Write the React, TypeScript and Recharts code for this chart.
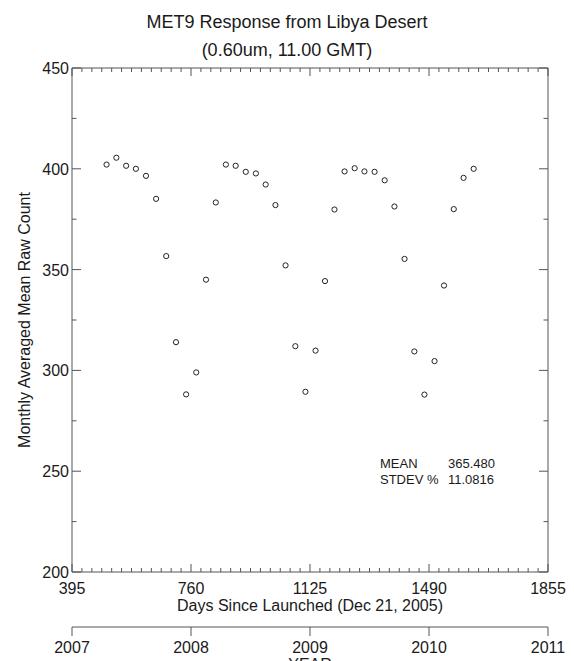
import React from 'react';
import { ScatterChart, Scatter, XAxis, YAxis, Label } from 'recharts';

// monthly points
const DAYS = [
  501, 531, 561, 591, 622, 653, 684, 714, 745, 776, 806, 836, 867, 897, 928, 959, 989, 1019, 1050,
  1080, 1111, 1142, 1171, 1200, 1231, 1262, 1292, 1323, 1354, 1384, 1415, 1445, 1476, 1507, 1536,
  1566, 1596, 1627,
];
const COUNTS = [
  402.1, 405.5, 401.5, 400.0, 396.5, 385.1, 356.7, 314.0, 288.1, 299.0, 345.0, 383.3, 402.1, 401.5,
  398.5, 397.7, 392.2, 382.0, 352.1, 312.0, 289.4, 309.8, 344.3, 379.8, 398.7, 400.3, 398.7, 398.5,
  394.3, 381.3, 355.3, 309.4, 288.0, 304.6, 342.1, 380.0, 395.5, 400.0,
];
const DAY_TICKS = [395, 760, 1125, 1490, 1855];
const YEAR_TICKS = [2007, 2008, 2009, 2010, 2011];
const COUNT_TICKS = [200, 250, 300, 350, 400, 450];
const STAT_LABELS = ['MEAN', 'STDEV %'];
const STAT_VALUES = ['365.480', '11.0816'];

const points = DAYS.map((d, i) => ({ day: d, count: COUNTS[i] }));

// 12 minor ticks per 365-day span, 25-count steps on y
const monthTicks: number[] = [];
DAY_TICKS.slice(0, -1).forEach((start) => {
  for (let k = 0; k < 12; k++) monthTicks.push(start + (k * 365) / 12);
});
monthTicks.push(DAY_TICKS[DAY_TICKS.length - 1]);
const countTicks: number[] = [];
for (let v = 200; v <= 450; v += 25) countTicks.push(v);

const INK = '#1a1a1a';
const AXIS = '#555';
const FONT = '"Liberation Sans", Arial, Helvetica, sans-serif';

const BottomTick = (props: any) => {
  const { x, y, payload } = props;
  const major = DAY_TICKS.includes(payload.value);
  return (
    <g>
      <line x1={x} x2={x} y1={y} y2={y - (major ? 8 : 4)} stroke={AXIS} />
      {major && (
        <text x={x} y={y + 22} textAnchor="middle" fontSize={16} fill={INK} fontFamily={FONT}>
          {payload.value}
        </text>
      )}
    </g>
  );
};

const TopTick = (props: any) => {
  const { x, y, payload } = props;
  const major = DAY_TICKS.includes(payload.value);
  return <line x1={x} x2={x} y1={y} y2={y + (major ? 8 : 4)} stroke={AXIS} />;
};

const LeftTick = (props: any) => {
  const { x, y, payload } = props;
  const major = COUNT_TICKS.includes(payload.value);
  return (
    <g>
      <line x1={x} x2={x + (major ? 9 : 4.5)} y1={y} y2={y} stroke={AXIS} />
      {major && (
        <text x={x - 3} y={y + 6} textAnchor="end" fontSize={16} fill={INK} fontFamily={FONT}>
          {payload.value}
        </text>
      )}
    </g>
  );
};

const RightTick = (props: any) => {
  const { x, y, payload } = props;
  const major = COUNT_TICKS.includes(payload.value);
  return <line x1={x} x2={x - (major ? 9 : 4.5)} y1={y} y2={y} stroke={AXIS} />;
};

const YTitle = (props: any) => {
  const { viewBox } = props;
  const cx = 24;
  const cy = viewBox.y + viewBox.height / 2;
  return (
    <text
      x={cx}
      y={cy}
      transform={`rotate(-90 ${cx} ${cy})`}
      textAnchor="middle"
      dominantBaseline="central"
      fontSize={16}
      fill={INK}
      fontFamily={FONT}
    >
      Monthly Averaged Mean Raw Count
    </text>
  );
};

const Ring = (props: any) => (
  <circle cx={props.cx} cy={props.cy} r={2.6} fill="none" stroke="#222" strokeWidth={1} />
);

// the frame-top and year axes only need a bound series to get their scale
const NoMark = () => <g />;

const yearLabel = (v: number) => String(YEAR_TICKS[DAY_TICKS.indexOf(v)] ?? '');

export default function App() {
  return (
    <div
      style={{
        position: 'absolute',
        left: 0,
        top: 0,
        width: 574,
        height: 661,
        background: '#fff',
        fontFamily: FONT,
        color: INK,
        overflow: 'hidden',
      }}
    >
      <div style={{ position: 'absolute', left: 0, width: 574, top: 11, textAlign: 'center', fontSize: 18, lineHeight: '22px' }}>
        MET9 Response from Libya Desert
      </div>
      <div style={{ position: 'absolute', left: 0, width: 574, top: 39, textAlign: 'center', fontSize: 18, lineHeight: '22px' }}>
        (0.60um, 11.00 GMT)
      </div>

      <ScatterChart width={574} height={661} margin={{ top: 67, right: 25, bottom: 0, left: 0 }}>
        <XAxis
          xAxisId="top"
          orientation="top"
          type="number"
          dataKey="day"
          domain={[395, 1855]}
          ticks={monthTicks}
          interval={0}
          height={1}
          tickSize={0}
          tickMargin={0}
          tickLine={false}
          tick={<TopTick />}
          axisLine={{ stroke: AXIS }}
          allowDataOverflow
        />
        <XAxis
          xAxisId="day"
          type="number"
          dataKey="day"
          domain={[395, 1855]}
          ticks={monthTicks}
          interval={0}
          height={55}
          tickSize={0}
          tickMargin={0}
          tickLine={false}
          tick={<BottomTick />}
          axisLine={{ stroke: AXIS }}
          allowDataOverflow
        >
          <Label
            value="Days Since Launched (Dec 21, 2005)"
            position="insideBottom"
            offset={16}
            style={{ fontSize: 16, fill: INK, fontFamily: FONT }}
          />
        </XAxis>
        <XAxis
          xAxisId="year"
          type="number"
          dataKey="day"
          domain={[395, 1855]}
          ticks={DAY_TICKS}
          tickFormatter={yearLabel}
          interval={0}
          height={34}
          tickSize={9}
          tickMargin={6}
          tick={{ fontSize: 16, fill: INK, fontFamily: FONT }}
          tickLine={{ stroke: AXIS }}
          axisLine={{ stroke: AXIS }}
          allowDataOverflow
        >
          <Label value="YEAR" position="insideBottom" offset={-9} style={{ fontSize: 16, fill: INK, fontFamily: FONT }} />
        </XAxis>
        <YAxis
          yAxisId="left"
          type="number"
          dataKey="count"
          domain={[200, 450]}
          ticks={countTicks}
          interval={0}
          width={72}
          tickSize={0}
          tickMargin={0}
          tickLine={false}
          tick={<LeftTick />}
          axisLine={{ stroke: AXIS }}
          allowDataOverflow
        >
          <Label content={<YTitle />} />
        </YAxis>
        <YAxis
          yAxisId="right"
          orientation="right"
          type="number"
          dataKey="count"
          domain={[200, 450]}
          ticks={countTicks}
          interval={0}
          width={1}
          tickSize={0}
          tickMargin={0}
          tickLine={false}
          tick={<RightTick />}
          axisLine={{ stroke: AXIS }}
          allowDataOverflow
        />
        <Scatter data={points} xAxisId="top" yAxisId="right" shape={<NoMark />} isAnimationActive={false} />
        <Scatter data={points} xAxisId="year" yAxisId="right" shape={<NoMark />} isAnimationActive={false} />
        <Scatter
          data={points}
          xAxisId="day"
          yAxisId="left"
          shape={<Ring />}
          isAnimationActive={false}
        />
      </ScatterChart>

      {STAT_LABELS.map((s, i) => (
        <div key={s} style={{ position: 'absolute', left: 380, top: 456 + i * 16, fontSize: 13, lineHeight: '16px' }}>
          <span style={{ display: 'inline-block', width: 68 }}>{s}</span>
          <span>{STAT_VALUES[i]}</span>
        </div>
      ))}
    </div>
  );
}
